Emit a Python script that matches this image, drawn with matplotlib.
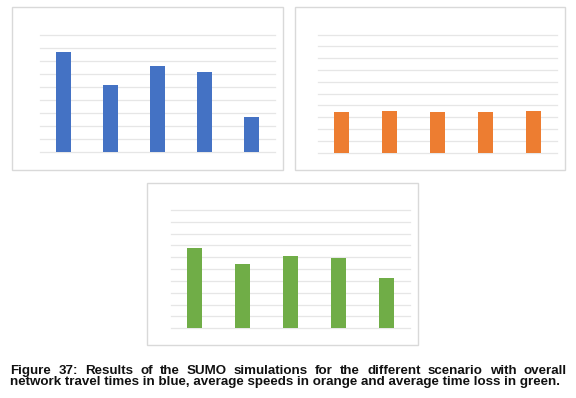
import matplotlib
matplotlib.use("Agg")
import matplotlib.pyplot as plt
from matplotlib.patches import Rectangle

W, H = 576, 398
categories = ["S1", "S2", "S3", "S4", "S5"]
travel_times = [7.69, 5.11, 6.57, 6.13, 2.66]
avg_speeds = [3.42, 3.51, 3.45, 3.45, 3.53]
time_loss = [6.79, 5.47, 6.11, 5.94, 4.28]

caption_line1 = "Figure 37: Results of the SUMO simulations for the different scenario with overall"
caption_line2 = "network travel times in blue, average speeds in orange and average time loss in green."

fig = plt.figure(figsize=(W / 100, H / 100), dpi=100)
fig.patch.set_facecolor("white")


def px_rect(x0, y0, x1, y1):
    return [x0 / W, 1 - y1 / H, (x1 - x0) / W, (y1 - y0) / H]


def panel_border(x0, y0, x1, y1):
    fig.patches.append(Rectangle((x0 / W, 1 - y1 / H), (x1 - x0) / W, (y1 - y0) / H,
                                 transform=fig.transFigure, fill=False,
                                 edgecolor="#d9d9d9", linewidth=1.0))


def bar_panel(rect, values, ymax, color):
    ax = fig.add_axes(px_rect(*rect))
    xs = [i + 0.5 for i in range(len(values))]
    ax.bar(xs, values, width=0.31, color=color, edgecolor="none", zorder=3)
    ax.set_xlim(0, len(values))
    ax.set_ylim(0, ymax)
    for g in range(ymax + 1):
        ax.axhline(g, color="#e6e6e6", linewidth=0.9, zorder=1, clip_on=False)
    ax.set_xticks([])
    ax.set_yticks([])
    for s in ax.spines.values():
        s.set_visible(False)
    ax.patch.set_alpha(0)
    return ax


panel_border(12, 7, 283, 170)
panel_border(295, 7, 565, 170)
panel_border(147, 183, 418, 345)

bar_panel((40, 34.7, 275, 152), travel_times, 9, "#4472C4")
bar_panel((318, 34.7, 557, 152.7), avg_speeds, 10, "#ED7D31")
bar_panel((171, 210, 410, 328.3), time_loss, 10, "#70AD47")

# caption: justified first line, left-aligned second line
fontkw = dict(family=["Liberation Sans", "DejaVu Sans"], fontweight="bold", fontsize=9.6, color="#111111")
x_left, x_right = 10.5, 566.5
y1, y2 = 374, 385.5
fig.canvas.draw()
renderer = fig.canvas.get_renderer()
words = caption_line1.split()
texts = [fig.text(0, 1 - y1 / H, w, ha="left", va="baseline", **fontkw) for w in words]
widths = [t.get_window_extent(renderer).width for t in texts]
gap = (x_right - x_left - sum(widths)) / (len(words) - 1)
x = x_left
for t, w in zip(texts, widths):
    t.set_x(x / W)
    x += w + gap
fig.text(x_left / W, 1 - y2 / H, caption_line2, ha="left", va="baseline", **fontkw)

fig.savefig("out.png", dpi=100, facecolor="white")
